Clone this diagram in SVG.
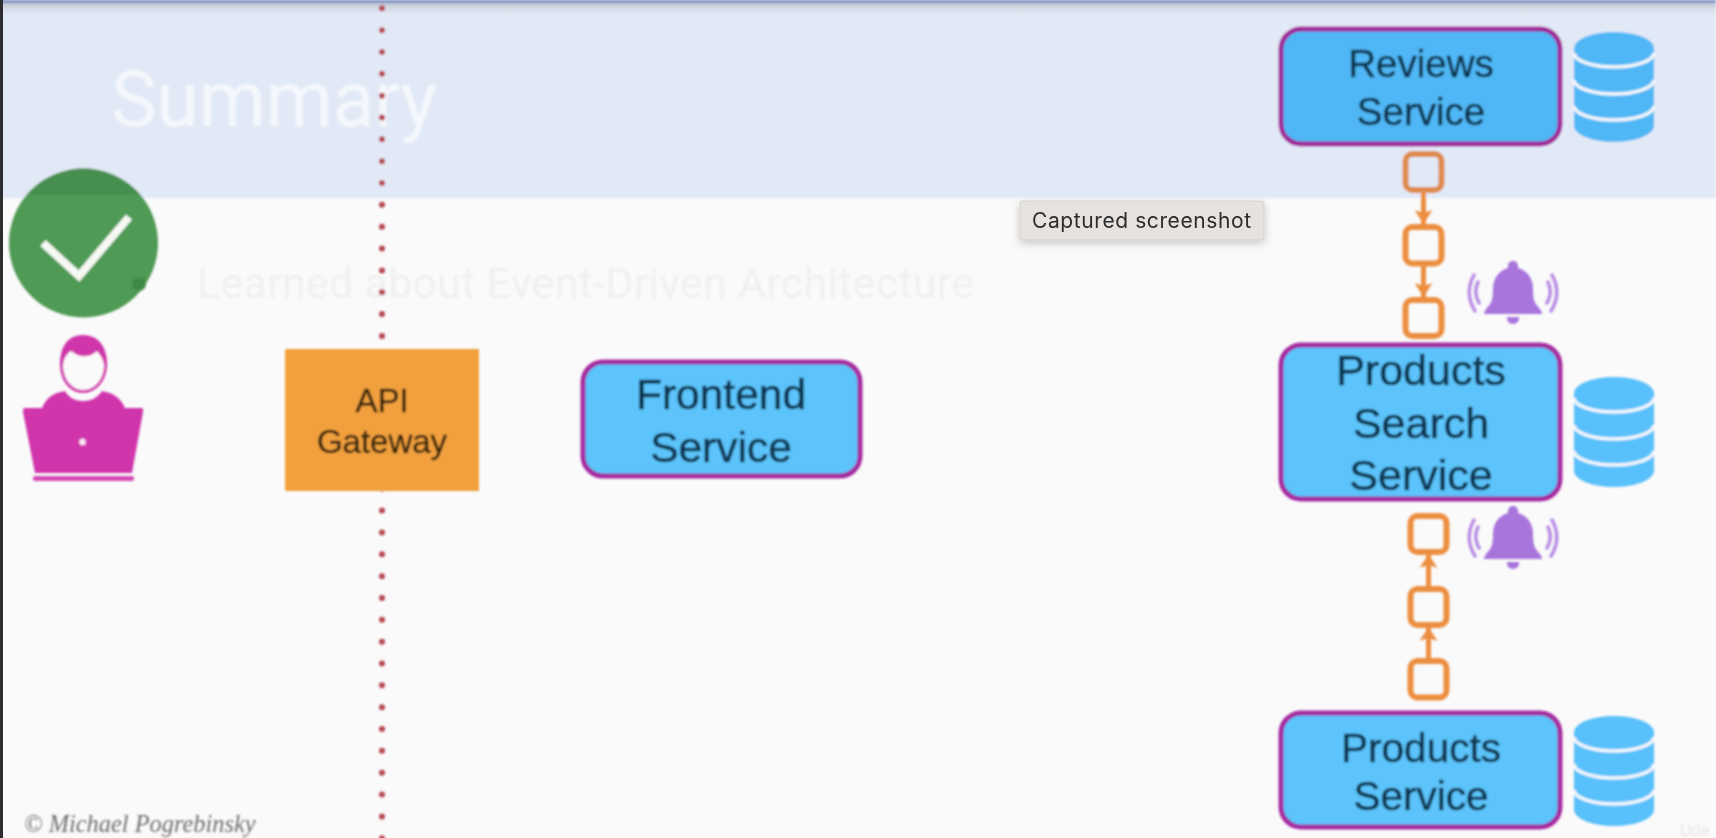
<svg xmlns="http://www.w3.org/2000/svg" xmlns:xlink="http://www.w3.org/1999/xlink" width="1716" height="838" viewBox="0 0 1716 838">
<style>
.svc{stroke:#a52ca0;stroke-width:5;fill:#5cc4fb}
.svc.top{fill:#50b7f5;stroke:#a0289a}
.svc-t{font-family:"Liberation Sans",Arial,sans-serif;fill:#0f3550;stroke:#0f3550;stroke-width:.6;text-anchor:middle}
.gw-t{font-family:"Liberation Sans",Arial,sans-serif;font-size:33px;fill:#38250f;stroke:#38250f;stroke-width:.5;text-anchor:middle}
.q{fill:none;stroke:#ec8e3f;stroke-width:6}
.q.top{stroke:#e08a4c}
.arrow{stroke:#ec8e3f;stroke-width:5;fill:none}
.ghost{font-family:Roboto,"Liberation Sans",sans-serif;font-weight:400}
.db-line{fill:none;stroke-width:3.5}
</style>
<defs>
<linearGradient id="topfade" x1="0" y1="0" x2="0" y2="1">
<stop offset="0" stop-color="#6f88c4"/>
<stop offset="0.14" stop-color="#7f93c4"/>
<stop offset="0.3" stop-color="#c9ced9"/>
<stop offset="1" stop-color="#e2e9f6"/>
</linearGradient>
<clipPath id="over-header"><rect x="0" y="0" width="200" height="195"/></clipPath>
<filter id="soft" filterUnits="userSpaceOnUse" x="0" y="0" width="1716" height="838"><feGaussianBlur stdDeviation="0.8"/></filter>
<filter id="shadow" x="-10%" y="-30%" width="120%" height="180%"><feDropShadow dx="0" dy="3" stdDeviation="4" flood-color="#000" flood-opacity="0.2"/></filter>
<marker id="head" markerUnits="userSpaceOnUse" markerWidth="18" markerHeight="18" refX="14" refY="9" orient="auto">
<path d="M0 0L14 9L0 18L3 9Z" fill="#ec8e3f"/>
</marker>
<symbol id="db" overflow="visible">
<path d="M0 16A40 16 0 0 1 80 16V94A40 16 0 0 1 0 94Z" fill="currentColor"/>
<path class="db-line" stroke="#f4f7fb" d="M0 21A40 14 0 0 0 80 21M0 48A40 14 0 0 0 80 48M0 74A40 14 0 0 0 80 74"/>
</symbol>
<g id="bell" fill="#a874dc">
<path d="M0 0C3 0 5 2 5 5V7C15 10 20 18 20 28C20 38 21 42 27 48L29 52V53H-29V52L-27 48C-21 42-20 38-20 28C-20 18-15 10-5 7V5C-5 2-3 0 0 0Z"/>
<path d="M-6 56H6A6 6 0 0 1 0 63A6 6 0 0 1 -6 56Z"/>
<path d="M-35 21Q-40 32-34 42M-39 14Q-49 32-38 50M35 21Q40 32 34 42M39 14Q49 32 38 50" fill="none" stroke="#b88be4" stroke-width="3.500" stroke-linecap="round"/>
</g>
</defs>

<rect width="1716" height="838" fill="#fafafa"/>
<g id="video" filter="url(#soft)">
<rect id="header" width="1716" height="198" fill="#e2e9f6"/>
<rect width="1716" height="14" fill="url(#topfade)"/>
<text class="ghost" x="111" y="126" font-size="77" fill="#f4f7fc" textLength="326">Summary</text>
<g id="bullet-check">
<circle cx="83.500" cy="243" r="74.500" fill="#4f9a55"/>
<circle cx="83.500" cy="243" r="74.500" fill="#468f4f" clip-path="url(#over-header)"/>
<path d="M43 243L79 276L129 217" fill="none" stroke="#f5f8f3" stroke-width="8"/>
<circle cx="139" cy="284" r="7" fill="#3f8a45"/>
</g>
<text class="ghost" x="197" y="298" font-size="43" fill="#f0f0f1" textLength="777">Learned about Event-Driven Architecture</text>
<text id="copyright" x="24" y="832" font-family="'Liberation Serif','Times New Roman',serif" font-style="italic" font-size="24.400" fill="#6f6f6f">© Michael Pogrebinsky</text>
<text x="1680" y="836" font-family="'Liberation Sans',sans-serif" font-size="16" fill="#e6e6e6">Ude</text>

<line id="boundary" x1="382" y1="8.300" x2="382" y2="840" stroke="#b5474f" stroke-width="6" stroke-linecap="round" stroke-dasharray="0 21.840"/>

<g id="user">
<path d="M83 335C66 335 60 349 60 364C60 381 70 393 83 393C96 393 107 381 107 364C107 349 100 335 83 335Z" fill="#d035ac"/>
<path d="M63 365C64 357 68 353 71 351C79 358 90 358 97 351C100 355 103 358 104 365C104 379 95 390 83 390C72 390 63 379 63 365Z" fill="#fafafa"/>
<path d="M42 408C46 398 53 393 65 391C69 398 76 401 83 401C91 401 97 398 102 391C113 393 121 398 125 408Z" fill="#d035ac"/>
<path d="M25 408H141Q144 408 143 412L132 473H35L23 412Q23 408 25 408Z" fill="#d035ac"/>
<rect x="33" y="476" width="101" height="5" rx="2" fill="#d548b4"/>
<circle cx="82.500" cy="442" r="3.200" fill="#fbe9f6"/>
</g>

<g id="api-gateway">
<rect x="285" y="349" width="194" height="142" fill="#f2a03d"/>
<text class="gw-t" x="382" y="412">API</text>
<text class="gw-t" x="382" y="453">Gateway</text>
</g>

<g id="frontend-service">
<rect class="svc" x="583" y="362" width="277" height="114" rx="20"/>
<text class="svc-t" x="721" y="409" font-size="42.500">Frontend</text>
<text class="svc-t" x="721" y="462" font-size="42.500">Service</text>
</g>

<g id="reviews-service">
<rect class="svc top" x="1281" y="29" width="279" height="115" rx="20"/>
<text class="svc-t" x="1421" y="77" font-size="38.500">Reviews</text>
<text class="svc-t" x="1421" y="125" font-size="38.500">Service</text>
</g>
<use id="reviews-db" href="#db" xlink:href="#db" x="1574" y="32" color="#50b7f5"/>

<g id="products-search-service">
<rect class="svc" x="1281" y="345" width="279" height="154" rx="20"/>
<text class="svc-t" x="1421" y="385" font-size="43">Products</text>
<text class="svc-t" x="1421" y="438" font-size="43">Search</text>
<text class="svc-t" x="1421" y="490" font-size="43">Service</text>
</g>
<use id="products-search-db" href="#db" xlink:href="#db" x="1574" y="377" color="#58c0fa"/>

<g id="products-service">
<rect class="svc" x="1281" y="713" width="279" height="114" rx="20"/>
<text class="svc-t" x="1421" y="762" font-size="40.500">Products</text>
<text class="svc-t" x="1421" y="810" font-size="40.500">Service</text>
</g>
<use id="products-db" href="#db" xlink:href="#db" x="1574" y="716" color="#58c0fa"/>

<g id="queue-top">
<rect class="q top" x="1405.500" y="154" width="36" height="36" rx="7"/>
<rect class="q" x="1405.500" y="227" width="36" height="36.500" rx="7"/>
<rect class="q" x="1405.500" y="300" width="36" height="36" rx="7"/>
</g>
<g id="queue-bottom">
<rect class="q" x="1410.500" y="516" width="36" height="36" rx="7"/>
<rect class="q" x="1410.500" y="589" width="36" height="36" rx="7"/>
<rect class="q" x="1410.500" y="661" width="36" height="36.500" rx="7"/>
</g>
<g id="connectors">
<line class="arrow" x1="1423.500" y1="192" x2="1423.500" y2="224" marker-end="url(#head)"/>
<line class="arrow" x1="1423.500" y1="266" x2="1423.500" y2="297" marker-end="url(#head)"/>
<line class="arrow" x1="1428.500" y1="586" x2="1428.500" y2="554" marker-end="url(#head)"/>
<line class="arrow" x1="1428.500" y1="658" x2="1428.500" y2="627" marker-end="url(#head)"/>
</g>
<use id="bell-top" href="#bell" xlink:href="#bell" x="1513" y="261"/>
<use id="bell-bottom" href="#bell" xlink:href="#bell" x="1513" y="506"/>
</g>
<rect id="left-edge" width="3" height="838" fill="#2b2d30"/>
<g id="tooltip">
<rect x="1020" y="201" width="244" height="39" rx="2" fill="#e6e2df" stroke="#d4d0cd" stroke-width="1" filter="url(#shadow)"/>
<text x="1032" y="228" font-family="Inter,'Liberation Sans',sans-serif" font-size="21" fill="#2c2c2c" textLength="219">Captured screenshot</text>
</g>
</svg>
